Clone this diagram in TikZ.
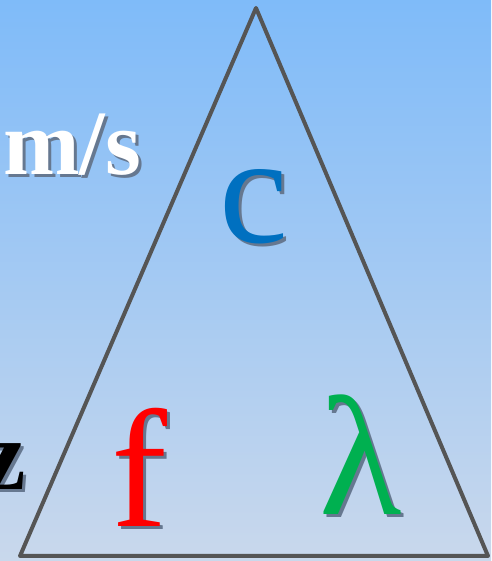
\documentclass[tikz,border=0pt]{standalone}
\usepackage{fontspec}
\setmainfont{Liberation Serif}
\definecolor{bgtop}{HTML}{7FBBF9}
\definecolor{bgbot}{HTML}{C9D8EC}
\definecolor{edge}{HTML}{555555}
\definecolor{cblue}{HTML}{0070C0}
\definecolor{fred}{HTML}{FF0000}
\definecolor{lgreen}{HTML}{00B050}
\definecolor{shade}{HTML}{667890}
\newcommand{\shtext}[2]{\rlap{\kern3pt\raisebox{-3pt}{\textcolor{shade}{#2}}}\textcolor{#1}{#2}}
\begin{document}
\begin{tikzpicture}[x=1pt,y=1pt,
  lbl/.style={inner sep=0pt,outer sep=0pt}]
\useasboundingbox (0,0) rectangle (491,561);
\shade[top color=bgtop,bottom color=bgbot] (0,0) rectangle (491,561);
\coordinate (A) at (256,553);
\coordinate (B) at (20,5);
\coordinate (C) at (488,5);
\draw[edge,line width=4pt,line join=round] (A) -- (B) -- (C) -- cycle;
\node[lbl,anchor=base west,font=\fontsize{92}{92}\selectfont\bfseries] (ms) at (3,386) {\shtext{white}{m/s}};
\node[lbl,anchor=base east,font=\fontsize{100}{100}\selectfont\bfseries] (z) at (26,71) {\shtext{black}{z}};
\node[lbl,anchor=base west,font=\fontsize{155}{155}\selectfont] (c) at (219,318) {\shtext{cblue}{c}};
\node[lbl,anchor=base west,font=\fontsize{168}{168}\selectfont] (f) at (111,34) {\shtext{fred}{f}};
\node[lbl,anchor=base west,font=\fontsize{170}{170}\selectfont] (l) at (319,46) {\shtext{lgreen}{λ}};
\end{tikzpicture}
\end{document}
